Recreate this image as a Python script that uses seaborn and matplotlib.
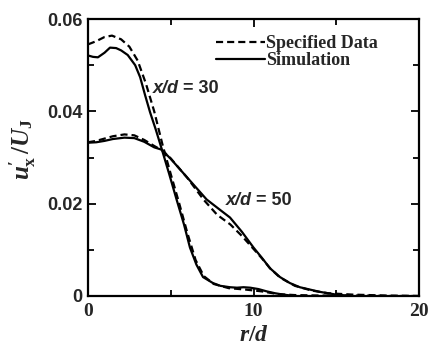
import numpy as np
import pandas as pd
import matplotlib
matplotlib.use("Agg")
import matplotlib.pyplot as plt
from matplotlib.lines import Line2D
from matplotlib.ticker import MultipleLocator
import seaborn as sns

# Radial profiles (r/d vs u'x/UJ)
r30_sim = [0, 0.3, 0.6, 1.0, 1.33, 1.7, 2.0, 2.4, 2.85, 3.15, 3.45, 3.75, 4.1, 4.45, 4.9, 5.36,
           5.8, 6.16, 6.55, 6.95, 7.55, 8.0, 8.58, 9.0, 9.4, 9.8, 10.3, 10.8, 11.3, 11.8, 12.5]
v30_sim = [0.0521, 0.0518, 0.0517, 0.0527, 0.0538, 0.0537, 0.0532, 0.0522, 0.0500, 0.0474, 0.0435,
           0.0398, 0.0360, 0.0319, 0.0265, 0.0208, 0.0155, 0.0105, 0.0068, 0.0041, 0.0028,
           0.0022, 0.0019, 0.0018, 0.0019, 0.0018, 0.0015, 0.0010, 0.0006, 0.0003, 0.0]

r30_spec = [0, 0.5, 1.0, 1.45, 2.0, 2.5, 3.0, 3.5, 4.0, 4.5, 5.0, 5.5, 6.0, 6.5, 7.0, 7.6,
            8.5, 9.5, 10.5, 11.5, 12.5, 14.0, 16.0, 18.0, 20.0]
v30_spec = [0.0545, 0.0552, 0.0561, 0.0564, 0.0556, 0.0540, 0.0510, 0.0460, 0.0400, 0.0328,
            0.0264, 0.0202, 0.0137, 0.0078, 0.0043, 0.0026, 0.0017, 0.0014, 0.0010, 0.0004,
            0.0002, 0.0001, 0.0001, 0.0, 0.0]

r50_sim = [0, 0.5, 1.0, 1.5, 2.2, 2.8, 3.4, 4.0, 4.45, 5.0, 5.96, 7.17, 8.0, 8.58, 9.3,
           10.0, 10.5, 11.0, 11.6, 12.2, 12.8, 14.0, 15.0, 16.0]
v50_sim = [0.0332, 0.0333, 0.0336, 0.0340, 0.0343, 0.0342, 0.0334, 0.0322, 0.0317, 0.0297,
           0.0258, 0.0209, 0.0186, 0.0170, 0.0139, 0.0105, 0.0083, 0.0060, 0.0041, 0.0028,
           0.0019, 0.0009, 0.0003, 0.0]

r50_spec = [0, 0.5, 1.0, 1.5, 2.2, 2.8, 3.4, 4.0, 4.5, 5.0, 6.0, 7.0, 7.8, 8.6, 9.3, 10.0,
            10.5, 11.0, 11.6, 12.5, 13.5, 14.5, 16.0, 18.0, 20.0]
v50_spec = [0.0333, 0.0336, 0.0341, 0.0346, 0.0350, 0.0348, 0.0338, 0.0325, 0.0315, 0.0298,
            0.0256, 0.0208, 0.0176, 0.0155, 0.0130, 0.0102, 0.0082, 0.0060, 0.0040, 0.0022,
            0.0012, 0.0006, 0.0003, 0.0001, 0.0]

xticks = [0, 10, 20]
yticks = [0, 0.02, 0.04, 0.06]
ytick_labels = ["0", "0.02", "0.04", "0.06"]

sns.set_style("ticks")
plt.rcParams["mathtext.fontset"] = "custom"
plt.rcParams["mathtext.it"] = "Liberation Serif:italic:bold"
plt.rcParams["mathtext.rm"] = "Liberation Serif:bold"

fig = plt.figure(figsize=(4.32, 3.54), dpi=100)
ax = fig.add_axes([88 / 432, 58 / 354, 331 / 432, 277 / 354])

dash = (0, (3.2, 1.8))
lw = 1.6
sns.lineplot(x=r30_spec, y=v30_spec, ax=ax, color="k", lw=lw, linestyle=dash, sort=False)
sns.lineplot(x=r50_spec, y=v50_spec, ax=ax, color="k", lw=lw, linestyle=dash, sort=False)
sns.lineplot(x=r30_sim, y=v30_sim, ax=ax, color="k", lw=lw, sort=False)
sns.lineplot(x=r50_sim, y=v50_sim, ax=ax, color="k", lw=lw, sort=False)

ax.set_xlim(0, 20)
ax.set_ylim(0, 0.06)
ax.set_xticks(xticks, labels=[str(t) for t in xticks], fontfamily="Liberation Serif",
              fontweight="bold", fontsize=14)
ax.set_yticks(yticks, labels=ytick_labels, fontfamily="Liberation Sans",
              fontweight="bold", fontsize=13)
ax.xaxis.set_minor_locator(MultipleLocator(5))
ax.yaxis.set_minor_locator(MultipleLocator(0.01))
ax.tick_params(which="both", direction="in", top=True, right=True, width=1.3, color="k")
ax.tick_params(which="major", length=6)
ax.tick_params(which="minor", length=4)
ax.tick_params(axis="x", pad=5)
ax.tick_params(axis="y", pad=4)
for s in ax.spines.values():
    s.set_linewidth(1.6)
    s.set_color("k")

ax.set_xlabel(r"$r/d$", fontsize=17)
ax.set_ylabel(r"$u^{\prime}_{\mathrm{x}}\,/U_{\mathrm{J}}$", fontsize=18)
ax.xaxis.set_label_coords(0.5, -0.095)
ax.yaxis.set_label_coords(-0.15, 0.53)

# case labels
for rx, vy, txt in [(3.93, 0.045, "= 30"), (8.35, 0.0207, "= 50")]:
    t = ax.text(rx, vy, "x/d", fontfamily="Liberation Sans", style="italic",
                fontweight="bold", fontsize=13, va="center", ha="left")
    ax.annotate(txt, xy=(1, 0.5), xycoords=t, xytext=(3, 0), textcoords="offset points",
                fontfamily="Liberation Sans", fontweight="bold", fontsize=13,
                va="center", ha="left")

handles = [Line2D([], [], color="k", lw=lw, linestyle=dash),
           Line2D([], [], color="k", lw=lw)]
ax.legend(handles, ["Specified Data", "Simulation"], loc="upper left",
          bbox_to_anchor=(0.36, 0.975), frameon=False, borderpad=0,
          handlelength=2.7, handletextpad=0.05, labelspacing=0.0,
          prop={"family": "Liberation Serif", "weight": "bold", "size": 13})

fig.savefig("out.png", dpi=100)
